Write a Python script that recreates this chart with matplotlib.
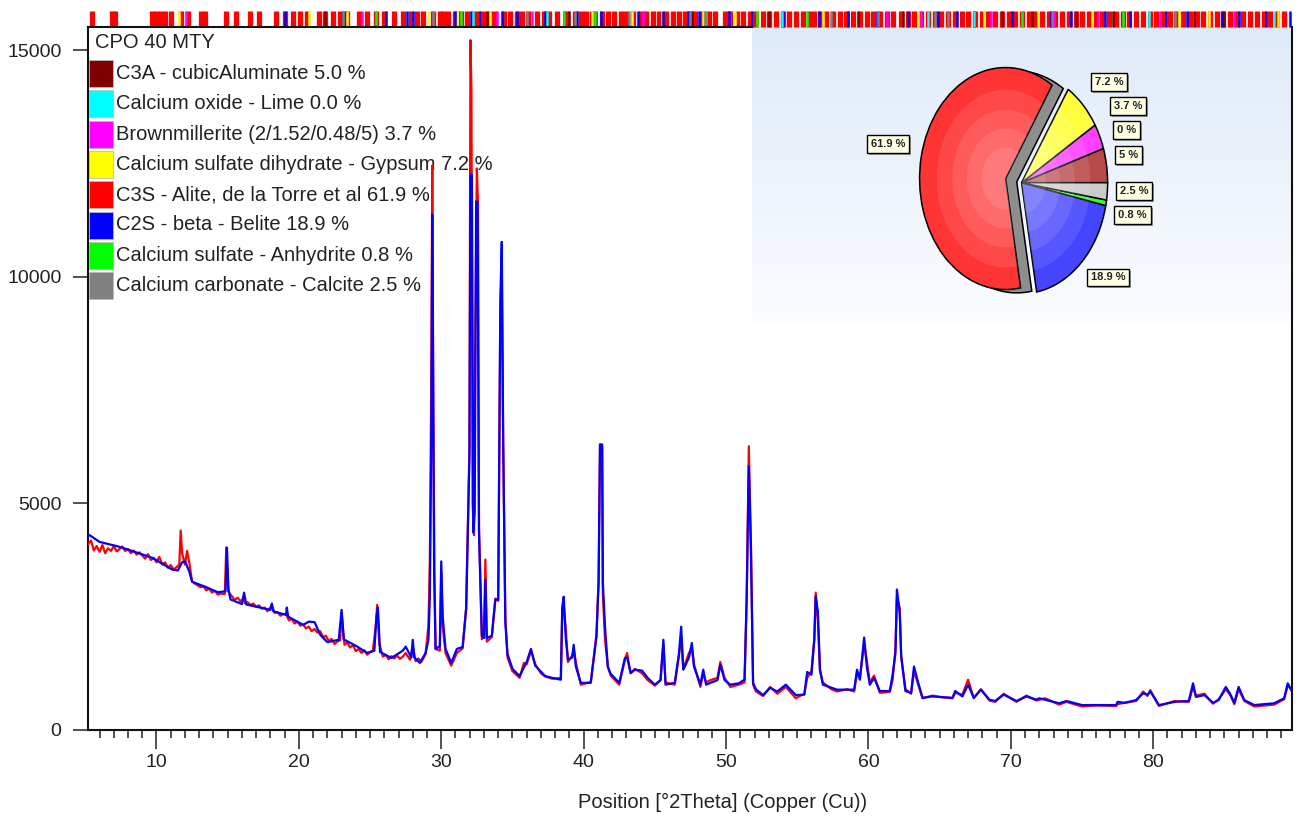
import numpy as np
import matplotlib
matplotlib.use('Agg')
import matplotlib.pyplot as plt
from matplotlib.patches import Rectangle, Wedge
from matplotlib.ticker import MultipleLocator

plt.rcParams['font.family'] = ['Liberation Sans Narrow', 'Liberation Sans', 'DejaVu Sans']

# --- diffraction pattern ---
obs_2theta = [5.2, 5.4, 5.6, 5.8, 6.0, 6.2, 6.4, 6.6, 6.8, 7.0, 7.2, 7.4, 7.6, 7.8, 8.0, 8.2, 8.4, 8.6, 8.8,
              9.0, 9.2, 9.4, 9.6, 9.8, 10.0, 10.2, 10.4, 10.6, 10.8, 11.0, 11.2, 11.4, 11.6,
              11.7, 11.8, 12.0, 12.15, 12.3, 12.5, 12.7, 12.9, 13.1, 13.3, 13.5, 13.7, 13.9, 14.1, 14.3, 14.5,
              14.8, 14.9, 15.05, 15.3, 15.5, 15.7, 15.9,
              16.1, 16.2, 16.4, 16.6, 16.8, 17.0, 17.2, 17.4, 17.6, 17.8, 18.1, 18.3, 18.5, 18.7, 18.9, 19.1,
              19.3, 19.5, 19.7, 19.9, 20.1, 20.3, 20.5, 20.7, 20.9, 21.1, 21.3, 21.5,
              21.7, 21.9, 22.1, 22.3, 22.5, 22.7, 22.9, 23.0, 23.2, 23.4, 23.6, 23.8, 24.0, 24.2, 24.4, 24.6,
              24.8, 25.0, 25.2, 25.4, 25.5, 25.65, 25.9, 26.1, 26.3, 26.5,
              26.7, 26.9, 27.1, 27.3, 27.5, 27.8, 28.0, 28.2, 28.4, 28.6, 28.9, 29.1, 29.2, 29.3, 29.37, 29.45,
              29.52, 29.6, 29.9,
              30.0, 30.1, 30.3, 30.7, 31.1, 31.5, 31.75, 31.98, 32.05, 32.12, 32.2, 32.3, 32.4, 32.5, 32.58,
              32.65, 32.85, 33.0, 33.1, 33.2, 33.55, 33.8, 34.0, 34.15, 34.25, 34.35, 34.5, 34.65, 35.0, 35.5,
              35.8, 36.0, 36.3, 36.6, 37.0, 37.3, 37.8, 38.4, 38.5, 38.6, 38.75, 38.9, 39.2, 39.3, 39.45, 39.8,
              40.5, 40.9, 41.05, 41.15, 41.3, 41.35, 41.5, 41.7, 41.9, 42.5, 42.9, 43.05, 43.3, 43.6, 44.1,
              44.5, 45.0, 45.4, 45.6, 45.75, 46.4, 46.7, 46.85, 47.0, 47.4, 47.6, 47.75, 48.2, 48.4, 48.6, 48.9,
              49.4, 49.6, 49.9, 50.3, 50.9, 51.3, 51.45, 51.6, 51.75, 51.9, 52.1, 52.6, 53.1, 53.6, 54.2, 54.9,
              55.5, 55.7, 56.0, 56.2, 56.3, 56.45, 56.6, 56.8, 57.4, 57.8, 58.5, 59.0, 59.2, 59.4, 59.7, 59.9,
              60.1, 60.4, 60.8, 61.5, 61.7, 61.9, 62.0, 62.2, 62.3, 62.6, 63.0, 63.2, 63.5, 63.8, 64.5, 65.2,
              65.9, 66.1, 66.6, 67.0, 67.4, 67.9, 68.5, 68.9, 69.5, 70.4, 71.1, 71.8, 72.4, 73.4, 73.9, 75.0,
              76.0, 77.4, 77.5, 78.0, 78.8, 79.3, 79.6, 79.8, 80.4, 81.5, 82.5, 82.8, 83.0, 83.6, 84.2, 84.6,
              85.1, 85.4, 85.7, 86.0, 86.4, 87.1, 88.5, 89.2, 89.45, 89.7]
obs_counts = [4100, 4180, 3960, 4060, 3930, 4080, 3900, 4010, 3950, 4060, 3940, 3990, 4050, 3950, 3990, 3900,
              3960, 3870, 3920, 3850, 3780, 3880, 3750, 3800, 3700, 3820, 3650, 3700, 3580, 3640, 3540,
              3590, 3650, 4400, 3900, 3650, 3950, 3700, 3280, 3230, 3190, 3150, 3170, 3080, 3120, 3030,
              3070, 2990, 3010, 3000, 4030, 3050,
              2950, 2870, 2920, 2840, 2900, 2800, 2820, 2760, 2790, 2720, 2750, 2680, 2700, 2620, 2750,
              2580, 2600, 2520, 2560, 2550, 2420, 2450, 2350, 2390, 2300, 2330, 2240, 2280, 2180, 2230,
              2150, 2180, 2050, 2080, 1960, 2010, 1900, 1950, 1980, 2600, 1880, 1930, 1820, 1870, 1740,
              1790, 1700, 1760, 1660, 1720, 1750, 2300, 2760, 1900, 1620, 1660, 1560, 1630,
              1580, 1640, 1570, 1620, 1700, 1550, 1850, 1520, 1580, 1500, 1680, 2300, 3760, 7800, 12450,
              6800, 3470, 1790, 1750,
              3500, 2300, 1700, 1420, 1700, 1800, 2700, 6200, 15220, 14100, 5000, 4300, 9000, 12390,
              11600, 4500, 2000, 2100, 3760, 1950, 2050, 2900, 2850, 9200, 10300, 6330, 2500, 1600, 1300, 1150,
              1480, 1450, 1750, 1450, 1250, 1180, 1130, 1150, 2700, 2750, 2200, 1500, 1650, 1800, 1500, 1000,
              1060, 2100, 3300, 6300, 6250, 3000, 2000, 1400, 1200, 1000, 1550, 1700, 1250, 1350, 1250, 1100,
              980, 1100, 1900, 1050, 1000, 1650, 2050, 1350, 1700, 1800, 1450, 950, 1250, 1050, 1100, 1150,
              1500, 1150, 950, 1000, 1050, 2900, 6260, 4100, 1000, 850, 750, 950, 800, 950, 700, 800, 1150,
              1300, 2000, 3030, 2400, 1300, 1050, 900, 850, 900, 850, 1250, 1150, 1900, 1500, 1050, 1200, 820,
              840, 1100, 1800, 2900, 2700, 1600, 900, 800, 1300, 1000, 700, 760, 720, 700, 820, 780, 1110, 700,
              900, 650, 620, 800, 620, 760, 650, 700, 560, 620, 520, 540, 530, 570, 600, 640, 850, 750, 880,
              530, 640, 620, 950, 760, 800, 580, 680, 900, 780, 570, 900, 640, 520, 560, 680, 980, 900]

calc_2theta = [5.2, 5.3, 6.0, 7.3, 8.0, 9.7, 11.1, 11.5, 11.8, 12.0, 12.3, 12.5, 13.5, 14.3, 14.85, 14.95,
               15.05, 15.2, 16.0, 16.15, 16.3, 18.0, 18.1, 18.2, 19.1, 19.15, 19.25, 20.3, 20.7, 21.1, 21.5,
               22.0, 22.8, 23.0, 23.15, 24.1, 24.8, 25.3, 25.45, 25.55, 25.7, 26.5, 27.3, 27.5, 27.9, 28.0,
               28.1, 28.5, 28.9, 29.1, 29.2, 29.3, 29.37, 29.45, 29.5, 29.6, 29.9, 30.0, 30.1, 30.3, 30.7,
               31.1, 31.5, 31.75, 31.98, 32.05, 32.15, 32.25, 32.35, 32.45, 32.55, 32.65, 32.85, 33.0, 33.1,
               33.2, 33.55, 33.8, 34.0, 34.15, 34.25, 34.35, 34.5, 34.65, 35.0, 35.5, 36.0, 36.3, 36.6, 37.3,
               37.8, 38.4, 38.5, 38.6, 38.75, 38.9, 39.2, 39.3, 39.45, 39.8, 40.5, 40.9, 41.05, 41.15, 41.3,
               41.35, 41.5, 41.7, 41.9, 42.5, 42.9, 43.05, 43.3, 43.6, 44.1, 44.5, 45.0, 45.4, 45.6, 45.75,
               46.4, 46.7, 46.85, 47.0, 47.4, 47.6, 47.75, 48.2, 48.4, 48.6, 48.9, 49.4, 49.6, 49.9, 50.3,
               50.9, 51.3, 51.45, 51.6, 51.75, 51.9, 52.1, 52.6, 53.1, 53.6, 54.2, 54.9, 55.5, 55.7, 56.0,
               56.2, 56.3, 56.45, 56.6, 56.8, 57.8, 59.0, 59.2, 59.4, 59.7, 59.9, 60.1, 60.4, 60.8, 61.5,
               61.7, 61.9, 62.0, 62.2, 62.3, 62.6, 63.0, 63.2, 63.5, 63.8, 64.5, 65.9, 66.1, 66.6, 67.0,
               67.4, 67.9, 68.5, 68.9, 69.5, 70.4, 71.1, 71.8, 72.0, 73.4, 73.9, 75.0, 77.4, 77.5, 78.0,
               78.8, 79.3, 79.6, 79.8, 80.4, 81.5, 82.5, 82.8, 83.0, 83.6, 84.2, 84.6, 85.1, 85.4, 85.7,
               86.0, 86.4, 87.1, 88.5, 89.2, 89.45, 89.7]
calc_counts = [4280, 4300, 4150, 4050, 3980, 3800, 3540, 3520, 3700, 3720, 3500, 3270, 3150, 3040, 3060,
               4020, 3100, 2880, 2780, 3030, 2770, 2650, 2790, 2620, 2540, 2700, 2500, 2320, 2390, 2380,
               2100, 1940, 1990, 2650, 2000, 1840, 1700, 1750, 2500, 2700, 1720, 1590, 1750, 1840, 1600,
               1990, 1600, 1480, 1700, 1990, 2960, 6410, 11370, 6410, 3470, 1790, 1850, 3720, 2500, 1790,
               1480, 1790, 1830, 2680, 6040, 12250, 12250, 4360, 4800, 11660, 11660, 4360, 2080, 2030, 3320,
               2030, 2080, 2880, 2880, 9500, 10770, 6330, 2370, 1680, 1350, 1190, 1500, 1790, 1420, 1190,
               1150, 1110, 2720, 2940, 2000, 1550, 1600, 1880, 1400, 1040, 1040, 2060, 3250, 6300, 6300,
               3250, 2280, 1390, 1240, 1040, 1590, 1600, 1260, 1330, 1310, 1150, 1000, 1100, 1990, 1000,
               1040, 1700, 2280, 1330, 1600, 1920, 1400, 1000, 1330, 1000, 1040, 1100, 1440, 1100, 1000,
               1030, 1110, 2900, 5820, 3980, 1040, 900, 770, 930, 850, 1000, 770, 780, 1280, 1220,
               2000, 2950, 2610, 1330, 1000, 890, 890, 1330, 1110, 2040, 1370, 1000, 1150, 860, 860,
               1220, 1700, 3100, 2570, 1660, 860, 820, 1400, 1040, 710, 740, 710, 860, 740, 1000,
               710, 890, 670, 640, 780, 640, 740, 670, 700, 590, 640, 550, 550, 620, 600,
               660, 810, 780, 850, 550, 620, 640, 1030, 730, 770, 600, 660, 950, 800, 600,
               950, 660, 550, 590, 700, 1030, 880]

# --- phases ---
phase_names = ['C3A - cubicAluminate 5.0 %', 'Calcium oxide - Lime 0.0 %',
               'Brownmillerite (2/1.52/0.48/5) 3.7 %', 'Calcium sulfate dihydrate - Gypsum 7.2 %',
               'C3S - Alite, de la Torre et al 61.9 %', 'C2S - beta - Belite 18.9 %',
               'Calcium sulfate - Anhydrite 0.8 %', 'Calcium carbonate - Calcite 2.5 %']
phase_colors = ['#800000', '#00ffff', '#ff00ff', '#ffff00', '#ff0000', '#0000ff', '#00ff00', '#808080']
phase_pct = [5.0, 0.0, 3.7, 7.2, 61.9, 18.9, 0.8, 2.5]
pie_labels = ['5 %', '0 %', '3.7 %', '7.2 %', '61.9 %', '18.9 %', '0.8 %', '2.5 %']
pie_colors = ['#b84a4a', '#30ffff', '#ff40ff', '#ffff40', '#ff3535', '#4545ff', '#35ff35', '#cccccc']

# reference peak positions per phase (top marker strip)
alite_peaks = [5.5, 6.9, 7.1, 9.7, 10.0, 10.3, 10.6, 11.0, 11.7, 12.2, 13.1, 13.4, 14.9, 15.6, 16.6, 17.2,
               18.4, 19.0, 19.6, 20.1, 20.6, 21.4, 21.8, 22.4, 22.9, 23.4, 24.2, 24.8, 25.4, 26.0, 26.7,
               27.3, 27.9, 28.3, 28.7, 29.4, 29.9, 30.1, 30.5, 31.0, 31.4, 31.8, 32.2, 32.6, 33.0, 33.4,
               33.8, 34.4, 34.8, 35.3, 35.7, 36.1, 36.7, 37.2, 37.6, 38.1, 38.8, 39.4, 39.8, 40.2, 40.6,
               41.3, 41.7, 42.1, 42.6, 43.0, 43.5, 44.0, 44.4, 44.9, 45.3, 45.8, 46.3, 46.7, 47.1, 47.5,
               47.8, 48.3, 48.8, 49.2, 49.9, 50.3, 50.8, 51.2, 51.7, 52.1, 52.6, 53.0, 53.5, 54.0, 54.4,
               54.9, 55.4, 55.8, 56.2, 56.6, 57.0, 57.5, 58.0, 58.4, 58.9, 59.4, 59.9, 60.3, 60.8, 61.3,
               61.7, 62.3, 62.8, 63.2, 63.7, 64.2, 64.7, 65.1, 65.6, 66.1, 66.6, 67.0, 67.5, 68.0, 68.4,
               68.9, 69.4, 69.9, 70.3, 70.8, 71.3, 71.7, 72.2, 72.7, 73.1, 73.6, 74.1, 74.6, 75.0, 75.5,
               76.0, 76.4, 76.9, 77.4, 77.9, 78.3, 78.8, 79.3, 79.8, 80.2, 80.7, 81.2, 81.6, 82.1, 82.6,
               83.1, 83.5, 84.0, 84.5, 84.9, 85.4, 85.9, 86.3, 86.8, 87.3, 87.8, 88.2, 88.7, 89.2]
belite_peaks = [19.0, 23.1, 26.1, 27.6, 28.0, 31.0, 32.1, 32.7, 34.3, 35.3, 37.3, 38.6, 39.5, 41.2, 43.8,
                45.6, 47.3, 48.1, 50.2, 51.8, 54.0, 56.5, 58.6, 60.6, 62.8, 64.9, 66.2, 67.4, 70.1, 72.8,
                74.2, 76.6, 78.4, 80.9, 82.4, 84.8, 86.0, 87.9, 89.6]
c3a_peaks = [21.8, 23.3, 33.2, 39.0, 40.9, 47.6, 53.0, 59.3, 62.4, 69.4, 71.5, 74.6, 77.2, 82.9, 85.0]
ferrite_peaks = [12.1, 24.4, 33.9, 36.4, 44.2, 47.4, 50.3, 58.6, 61.3, 63.7, 68.6, 73.0, 76.1, 80.5, 85.7]
gypsum_peaks = [11.6, 20.7, 23.4, 29.1, 31.1, 33.4, 40.6, 43.4, 45.5, 48.4, 50.6, 56.8, 63.5, 68.1, 71.9,
                75.7, 81.8, 83.9, 88.8]
anhydrite_peaks = [25.4, 31.4, 38.6, 40.8, 48.6, 52.2, 55.7, 70.8, 77.9]
calcite_peaks = [23.1, 29.4, 36.0, 39.4, 43.2, 47.5, 48.5, 57.4, 60.7, 64.7, 65.6, 72.9, 81.5]
lime_peaks = [32.2, 37.4, 53.9, 64.2, 67.4, 79.7, 88.5]

W, H = 1303, 819
fig = plt.figure(figsize=(W / 100, H / 100), dpi=100)
ax = fig.add_axes([88 / W, 1 - 730 / H, 1204 / W, 703 / H])


def fx(px):
    return px / W


def fy(py):
    return 1 - py / H


# light blue backdrop behind the pie
grad = np.linspace(0, 1, 100)[:, None]
top_c = np.array([0.875, 0.918, 0.976])
bot_c = np.array([0.985, 0.99, 1.0])
img = top_c[None, None, :] * (1 - grad[:, :, None]) + bot_c[None, None, :] * grad[:, :, None]
ax.imshow(img, extent=[(752 - 88) / 1204, 1, (730 - 325) / 703, 1], transform=ax.transAxes,
          aspect='auto', zorder=0, interpolation='bilinear')

ax.plot(obs_2theta, obs_counts, color='#ff0000', lw=1.6, zorder=3)
ax.plot(calc_2theta, calc_counts, color='#0000ff', lw=1.6, zorder=4)
ax.set_xlim(5.19, 89.75)
ax.set_ylim(0, 15510)

# marker strip above the axes
strip = ax.get_xaxis_transform()
ax.vlines(alite_peaks, 1.0, 1.0228, transform=strip, colors='#ff0000', lw=3.8, clip_on=False)
for pk, c in [(c3a_peaks, '#800000'), (ferrite_peaks, '#ff00ff'), (gypsum_peaks, '#ffff00'),
              (belite_peaks, '#0000ff'), (anhydrite_peaks, '#00ff00'), (calcite_peaks, '#808080'),
              (lime_peaks, '#00ffff')]:
    ax.vlines(pk, 1.0, 1.0228, transform=strip, colors=c, lw=1.8, clip_on=False)

ax.xaxis.set_major_locator(MultipleLocator(10))
ax.xaxis.set_minor_locator(MultipleLocator(1))
ax.yaxis.set_major_locator(MultipleLocator(5000))
ax.tick_params(axis='x', which='major', length=14, width=1.1, labelsize=14, pad=3, colors='#222222')
ax.tick_params(axis='x', which='minor', length=6, width=1.1, colors='#222222')
ax.tick_params(axis='y', which='major', length=11, width=1.1, labelsize=14, pad=8, colors='#222222')
for s in ax.spines.values():
    s.set_linewidth(1.5)
    s.set_color('#111111')
ax.spines['top'].set_bounds(5.19, 51.85)

ax.set_xlabel('Position [°2Theta] (Copper (Cu))', fontsize=14.5, color='#222222')
ax.xaxis.set_label_coords((723 - 88) / 1204, (730 - 793) / 703)

# legend block
ax.text(fx(95), fy(43), 'CPO 40 MTY', transform=fig.transFigure, fontsize=14.5, va='center',
        color='#222222', zorder=1)
for i, (name, c) in enumerate(zip(phase_names, phase_colors)):
    y0 = 60 + 30.3 * i
    ax.add_patch(Rectangle((fx(89), fy(y0 + 27)), 24 / W, 27 / H, transform=fig.transFigure,
                           facecolor=c, edgecolor='#bbbbbb', lw=0.6, clip_on=False, zorder=1))
    ax.text(fx(116), fy(y0 + 13.5), name, transform=fig.transFigure, fontsize=14.5, va='center',
            color='#222222', zorder=1)

# pie inset (elliptical)
pax = fig.add_axes([fx(1021.6 - 1.3 * 86), fy(182.7 + 1.3 * 111), 2.6 * 86 / W, 2.6 * 111 / H])
pax.set_zorder(5)
pax.patch.set_alpha(0)
explode = [0, 0, 0, 0, 0.19, 0, 0, 0]
wedges, _ = pax.pie(phase_pct, colors=pie_colors, explode=explode, startangle=0, counterclock=True,
                    wedgeprops=dict(edgecolor='black', linewidth=1.1))
red = wedges[4]
cx, cy = red.center
pax.add_patch(Wedge((cx + 0.13, cy - 0.03), 1, red.theta1, red.theta2, facecolor='#8e8e8e',
                    edgecolor='black', lw=1.1, zorder=0.5))
# soft radial highlight on every slice
for w in wedges:
    if w.theta2 - w.theta1 < 0.5:
        continue
    for r in [0.8, 0.62, 0.45, 0.28]:
        pax.add_patch(Wedge(w.center, r, w.theta1, w.theta2, facecolor='white', alpha=0.1,
                            edgecolor='none', zorder=1.5))
pax.set_aspect('auto')
pax.set_xlim(-1.3, 1.3)
pax.set_ylim(-1.3, 1.3)
pax.axis('off')

label_pos = [(1128.5, 155), (1126.5, 130), (1128, 106), (1109, 82), (888, 144), (1108, 277.5),
             (1132.5, 215), (1134, 191)]
for lab, (px, py) in zip(pie_labels, label_pos):
    fig.text(fx(px + 2), fy(py + 2), lab, fontsize=8, fontweight='bold', ha='center', va='center',
             color='#888888', zorder=6,
             bbox=dict(boxstyle='square,pad=0.35', fc='#9a9a9a', ec='none'))
    fig.text(fx(px), fy(py), lab, fontsize=8, fontweight='bold', ha='center', va='center',
             color='#222222', zorder=7,
             bbox=dict(boxstyle='square,pad=0.35', fc='#ffffe3', ec='black', lw=1))

fig.savefig('out.png', dpi=100)
